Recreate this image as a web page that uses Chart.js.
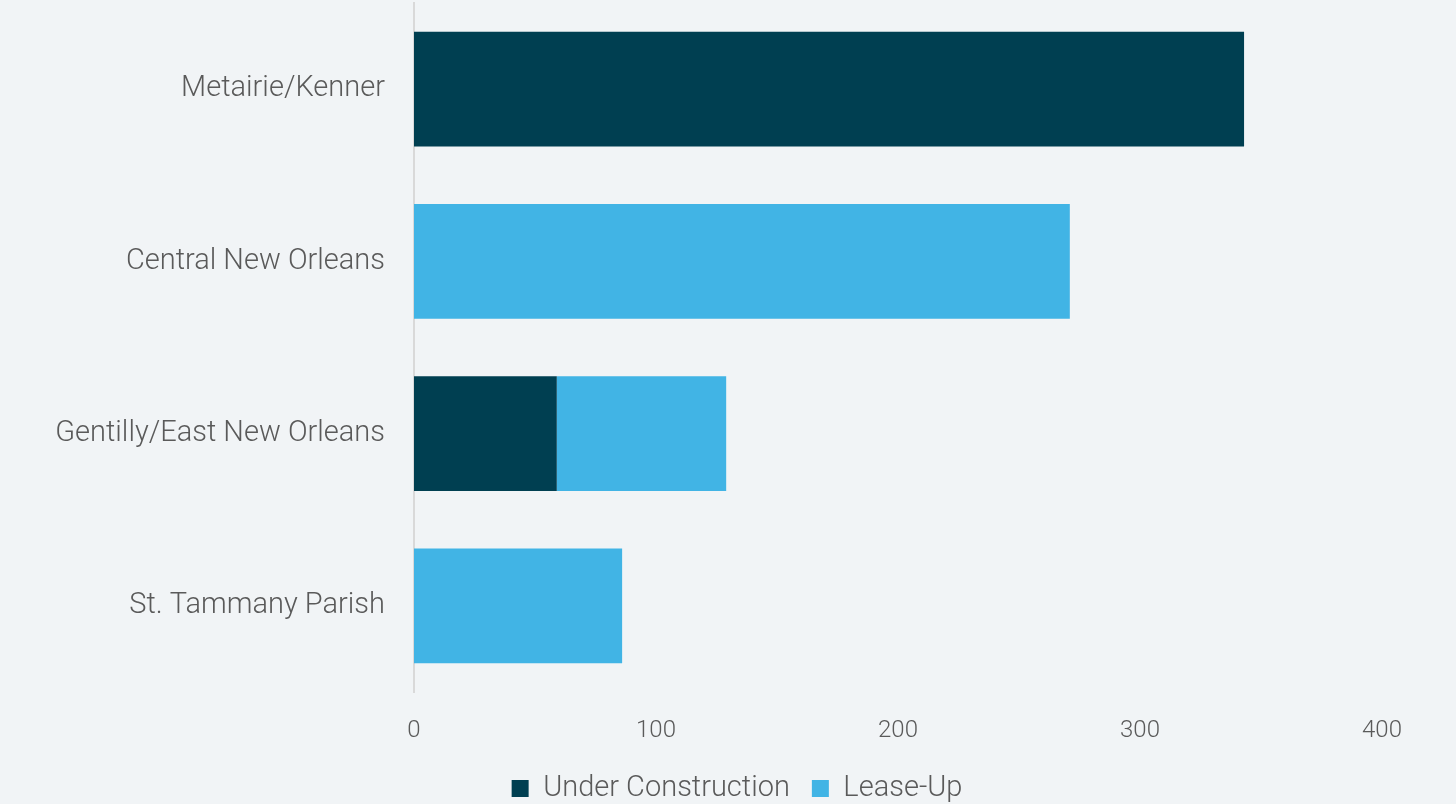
<!DOCTYPE html>
<html>
<head>
<meta charset="utf-8">
<script src="https://cdn.jsdelivr.net/npm/chart.js@4/dist/chart.umd.min.js"></script>
<style>
  html, body { margin: 0; padding: 0; background: #f1f4f6; }
  #wrap { width: 1456px; height: 804px; }
</style>
</head>
<body>
<div id="wrap"><canvas id="c"></canvas></div>
<script>
// submarkets, top to bottom
const categories = ['Metairie/Kenner', 'Central New Orleans', 'Gentilly/East New Orleans', 'St. Tammany Parish'];
const underConstruction = [343, 0, 59, 0];
const leaseUp = [0, 271, 70, 86];
const xTicks = [0, 100, 200, 300, 400];

const FONT = "Roboto, 'Open Sans', sans-serif";
const TEXT = '#5a5a5a';

// the original legend sits a bit right of the canvas middle
const legendShift = {
  id: 'legendShift',
  afterLayout(chart) {
    if (chart.legend) chart.legend.left = 92;
  },
};

new Chart(document.getElementById('c'), {
  type: 'bar',
  data: {
    labels: categories,
    datasets: [
      { label: 'Under Construction', data: underConstruction, backgroundColor: '#003f51', borderWidth: 0 },
      { label: 'Lease-Up', data: leaseUp, backgroundColor: '#41b4e5', borderWidth: 0 },
    ],
  },
  options: {
    indexAxis: 'y',
    responsive: true,
    maintainAspectRatio: false,
    animation: false,
    layout: { padding: { top: 3, right: 74, bottom: -9, left: 0 } },
    datasets: { bar: { categoryPercentage: 1, barPercentage: 0.665 } },
    plugins: {
      legend: {
        position: 'bottom',
        labels: {
          color: TEXT,
          font: { family: FONT, size: 29, weight: 300 },
          boxWidth: 17,
          boxHeight: 17,
          padding: 22,
        },
      },
      tooltip: { enabled: false },
    },
    scales: {
      x: {
        stacked: true,
        min: 0,
        max: 400,
        afterBuildTicks: s => { s.ticks = xTicks.map(v => ({ value: v })); },
        afterFit: s => { s.height = 60; s.paddingLeft = 0; s.paddingRight = 0; },
        grid: { display: false },
        border: { display: false },
        ticks: { color: TEXT, font: { family: FONT, size: 24, weight: 300 }, padding: 17 },
      },
      y: {
        stacked: true,
        afterFit: s => { s.width = 414; s.paddingTop = 0; s.paddingBottom = 0; },
        grid: { display: false },
        border: { display: true, color: '#d9d9d9', width: 2 },
        ticks: { color: TEXT, font: { family: FONT, size: 29, weight: 300 }, padding: 21 },
      },
    },
  },
  plugins: [legendShift],
});
</script>
</body>
</html>
